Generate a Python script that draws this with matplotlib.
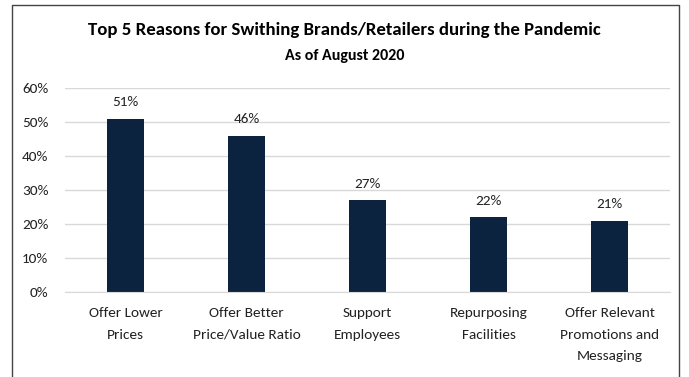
import matplotlib.pyplot as plt
from matplotlib.lines import Line2D
from matplotlib.ticker import PercentFormatter

plt.rcParams['font.family'] = ['Carlito', 'DejaVu Sans']

reasons = ['Offer Lower\nPrices', 'Offer Better\nPrice/Value Ratio', 'Support\nEmployees',
           'Repurposing\nFacilities', 'Offer Relevant\nPromotions and\nMessaging']
shares = [51, 46, 27, 22, 21]
yticks = [0, 10, 20, 30, 40, 50, 60]

fig = plt.figure(figsize=(6.89, 3.77), dpi=100)
ax = fig.add_axes([65 / 689, 1 - 292 / 377, 605 / 689, 204 / 377])

x = range(len(reasons))
ax.bar(x, shares, width=0.31, color='#0c2340', zorder=3)
for xi, v in zip(x, shares):
    ax.text(xi, v + 3.0, f'{v}%', ha='center', va='bottom', fontsize=11, color='#222222')

ax.set_xlim(-0.5, len(reasons) - 0.5)
ax.set_ylim(0, 60)
ax.set_yticks(yticks)
ax.yaxis.set_major_formatter(PercentFormatter(decimals=0))
ax.grid(axis='y', color='#d9d9d9', linewidth=1, zorder=0)
ax.set_xticks(list(x))
ax.set_xticklabels(reasons, fontsize=11, linespacing=1.95, va='top')
ax.tick_params(axis='both', length=0, labelsize=11, colors='#222222')
ax.tick_params(axis='x', pad=11)
ax.tick_params(axis='y', pad=12)
for s in ax.spines.values():
    s.set_visible(False)
ax.spines['bottom'].set_visible(True)
ax.spines['bottom'].set_color('#d9d9d9')
ax.spines['bottom'].set_zorder(4)

fig.text(0.5, 1 - 30 / 377, 'Top 5 Reasons for Swithing Brands/Retailers during the Pandemic',
         ha='center', va='center', fontsize=13.5, fontweight='bold')
fig.text(0.5, 1 - 56 / 377, 'As of August 2020', ha='center', va='center',
         fontsize=11.5, fontweight='bold')

# frame around the chart (open at the bottom)
l, r, t = 12 / 689, 679 / 689, 1 - 5 / 377
fig.add_artist(Line2D([l, l, r, r], [0, t, t, 0], transform=fig.transFigure,
                      color='#444444', linewidth=1))

fig.savefig('out.png', dpi=100)
